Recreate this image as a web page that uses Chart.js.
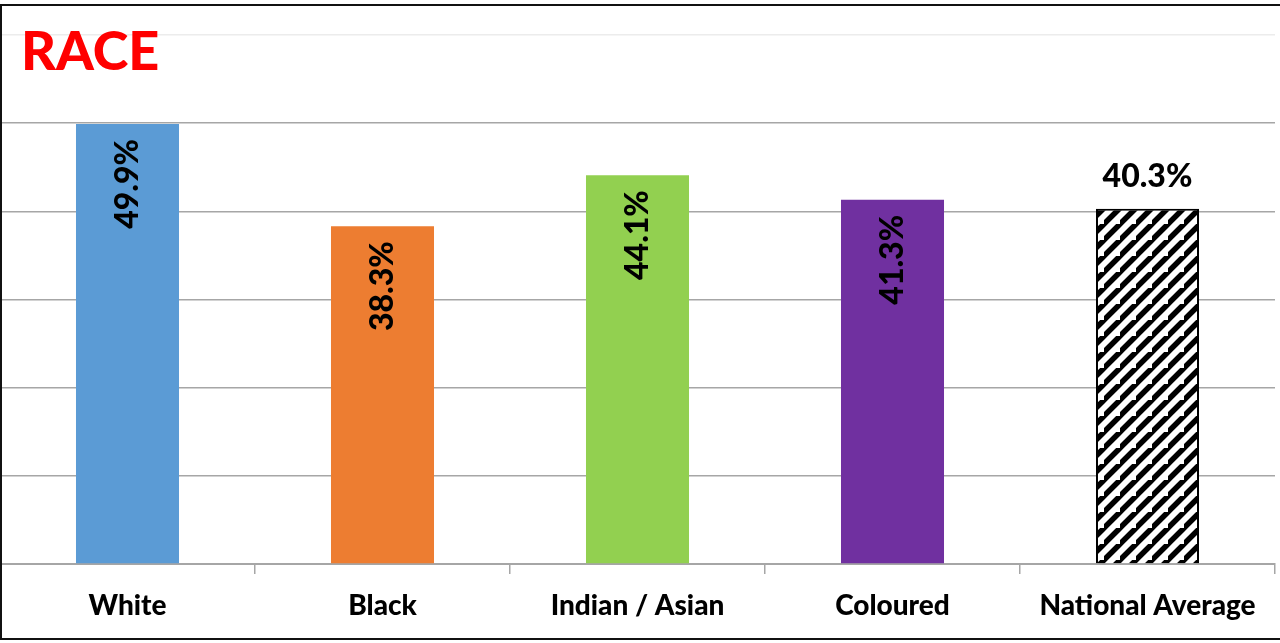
<!DOCTYPE html>
<html lang="en">
<head>
<meta charset="UTF-8" />
<title>Race</title>
<script src="https://cdn.jsdelivr.net/npm/chart.js"></script>
<style>
    html, body {
        margin: 0;
        padding: 0;
        background: #fff;
        overflow: hidden;
    }
    .chart-wrap {
        position: relative;
        width: 1280px;
        height: 643px;
    }
    /* black frame round the chart, open on the right */
    .frame {
        position: absolute;
        left: 0;
        top: 4px;
        width: 1300px;
        height: 632px;
        border: 2px solid #111;
        pointer-events: none;
    }
</style>
</head>
<body>

<div class="chart-wrap">
    <canvas id="raceChart"></canvas>
    <div class="frame"></div>
</div>

<script>
    const categories = ['White', 'Black', 'Indian / Asian', 'Coloured', 'National Average'];
    const values = [49.9, 38.3, 44.1, 41.3, 40.3];
    const barColors = ['#5B9BD5', '#ED7D31', '#92D050', '#7030A0'];
    const yMax = 60;
    const yStep = 10;

    const FONT = "Lato, 'Open Sans', sans-serif";

    // diagonal black stripes for the national average bar
    function makeHatch() {
        const s = 16;
        const c = document.createElement('canvas');
        c.width = s;
        c.height = s;
        const g = c.getContext('2d');
        g.fillStyle = '#fff';
        g.fillRect(0, 0, s, s);
        g.strokeStyle = '#000';
        g.lineWidth = 5.5;
        g.beginPath();
        // lines x + y = 0, s, 2s so the tile joins up seamlessly
        g.moveTo(-s, s); g.lineTo(s, -s);
        g.moveTo(-s, 2 * s); g.lineTo(2 * s, -s);
        g.moveTo(0, 3 * s); g.lineTo(3 * s, 0);
        g.stroke();
        return g.createPattern(c, 'repeat');
    }

    const ctx = document.getElementById('raceChart').getContext('2d');
    const fills = barColors.concat([makeHatch()]);

    // red heading in the top left corner
    const headingPlugin = {
        id: 'heading',
        afterDraw(chart) {
            const c = chart.ctx;
            c.save();
            c.fillStyle = '#FF0000';
            c.font = '900 54px ' + FONT;
            c.textAlign = 'left';
            c.textBaseline = 'alphabetic';
            c.fillText('RACE', 21, 70);
            c.restore();
        }
    };

    // value labels: rotated inside the coloured bars, flat above the last one
    const valueLabels = {
        id: 'valueLabels',
        afterDatasetsDraw(chart) {
            const c = chart.ctx;
            const meta = chart.getDatasetMeta(0);
            c.save();
            c.fillStyle = '#000';
            c.font = '900 32px ' + FONT;
            meta.data.forEach((bar, i) => {
                const txt = values[i].toFixed(1) + '%';
                if (i === values.length - 1) {
                    c.textAlign = 'center';
                    c.textBaseline = 'alphabetic';
                    c.fillText(txt, bar.x, bar.y - 22);
                } else {
                    c.save();
                    c.translate(bar.x, bar.y + 15);
                    c.rotate(-Math.PI / 2);
                    c.textAlign = 'right';
                    c.textBaseline = 'middle';
                    c.fillText(txt, 0, 0);
                    c.restore();
                }
            });
            c.restore();
        }
    };

    new Chart(ctx, {
        type: 'bar',
        data: {
            labels: categories,
            datasets: [{
                data: values,
                backgroundColor: fills,
                borderColor: ['rgba(0,0,0,0)', 'rgba(0,0,0,0)', 'rgba(0,0,0,0)', 'rgba(0,0,0,0)', '#000'],
                borderWidth: [0, 0, 0, 0, 2],
                categoryPercentage: 1.0,
                barPercentage: 0.404
            }]
        },
        options: {
            responsive: true,
            maintainAspectRatio: false,
            animation: false,
            layout: { padding: { top: 35, right: 5, left: 0, bottom: 0 } },
            plugins: {
                legend: { display: false },
                tooltip: { enabled: false }
            },
            scales: {
                x: {
                    grid: {
                        offset: true,
                        drawOnChartArea: false,
                        tickLength: 10,
                        color: '#a6a6a6',
                        lineWidth: 1.5
                    },
                    border: { color: '#a6a6a6', width: 2 },
                    ticks: {
                        color: '#000',
                        padding: 15,
                        font: { family: FONT, size: 28, weight: 900 }
                    },
                    afterFit: axis => { axis.height = 79; }
                },
                y: {
                    min: 0,
                    max: yMax,
                    ticks: { display: false, stepSize: yStep },
                    border: { display: false },
                    grid: {
                        drawTicks: false,
                        lineWidth: 1.5,
                        color: c => c.tick && c.tick.value === yMax ? '#ececec' : '#a6a6a6'
                    },
                    afterFit: axis => { axis.width = 0; }
                }
            }
        },
        plugins: [headingPlugin, valueLabels]
    });
</script>

</body>
</html>
